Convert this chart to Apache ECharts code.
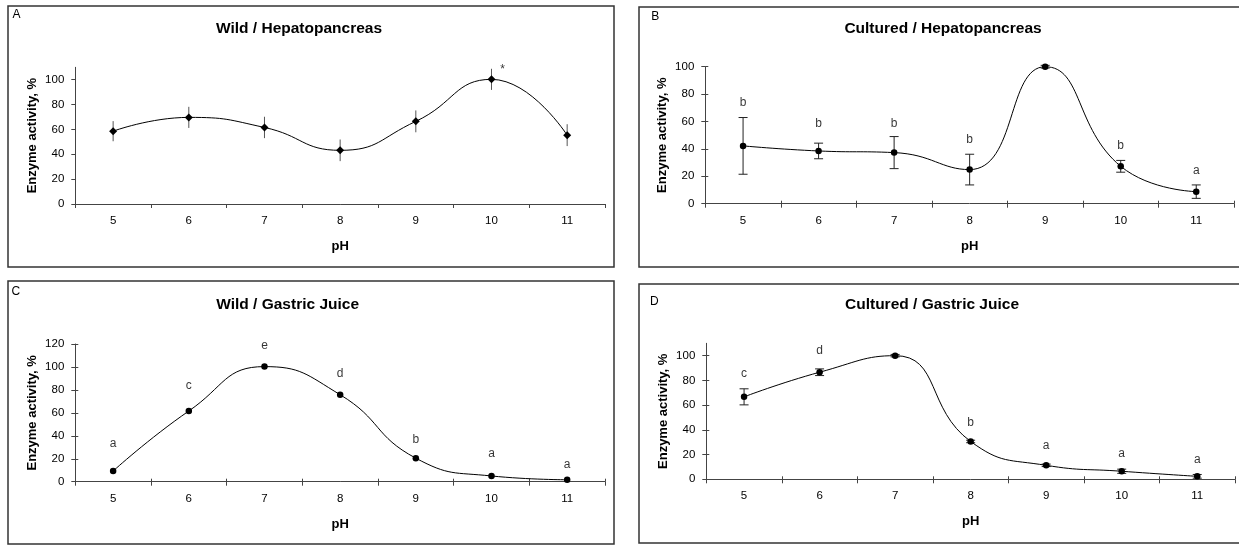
<!DOCTYPE html>
<html><head><meta charset="utf-8">
<script src="https://cdn.jsdelivr.net/npm/echarts@6/dist/echarts.min.js"></script>
<style>html,body{margin:0;padding:0;background:#fff}#c{width:1239px;height:546px}</style>
</head><body><div id="c"></div>
<script>
// ---------- data ----------
const categories = ['5', '6', '7', '8', '9', '10', '11'];
const ticks110 = [0, 20, 40, 60, 80, 100];
const ticks120 = [0, 20, 40, 60, 80, 100, 120];

// A: Wild / Hepatopancreas
const valuesA = [58.6, 69.7, 61.6, 43.2, 66.5, 100.3, 55.4];
const errorsA = [8.1, 8.5, 8.6, 8.7, 8.8, 8.5, 8.8];
const marksA  = ['', '', '', '', '', '*', ''];
const markYA  = [null, null, null, null, null, 108, null];

// B: Cultured / Hepatopancreas
const valuesB = [42.2, 38.5, 37.3, 24.9, 100, 27.3, 8.8];
const errorsB = [20.7, 5.7, 11.7, 11.2, 1, 4.3, 4.9];
const marksB  = ['b', 'b', 'b', 'b', 'c', 'b', 'a'];
const markYB  = [73.5, 58.5, 58.5, 47, 115.4, 42.5, 23.9];

// C: Wild / Gastric Juice
const valuesC = [9.3, 61.6, 100.3, 75.8, 20.5, 5, 1.7];
const marksC  = ['a', 'c', 'e', 'd', 'b', 'a', 'a'];
const markYC  = [33.3, 83.6, 118.3, 94.3, 37, 24.6, 15];

// D: Cultured / Gastric Juice
const valuesD = [66.7, 86.6, 100, 30.6, 11.3, 6.5, 2.4];
const errorsD = [6.5, 2.7, 1, 1, 1, 1.7, 1.5];
const marksD  = ['c', 'd', 'e', 'b', 'a', 'a', 'a'];
const markYD  = [85.8, 104, 111.8, 45.5, 27.4, 20.7, 15.9];

// ---------- chart ----------
const FONT = '"Liberation Sans", Arial, sans-serif';
const AXIS_COLOR = '#444';

const panels = [
  {grid:{left:75.3, top:67.3, width:529.7, height:136.7}, max:110, ticks:ticks110, values:valuesA, errors:errorsA, cap:0, errColor:'#555', symbol:'diamond', symbolSize:8, marks:marksA, markY:markYA, markOffset:[11,0], cross:false},
  {grid:{left:705.3, top:66.7, width:528.7, height:137}, max:100, ticks:ticks110, values:valuesB, errors:errorsB, cap:4.5, errColor:'#222', symbol:'circle', symbolSize:6.5, marks:marksB, markY:markYB, markOffset:[0,0], cross:true},
  {grid:{left:75.3, top:344, width:529.7, height:137.7}, max:120, ticks:ticks120, values:valuesC, errors:null, cap:0, errColor:'#222', symbol:'circle', symbolSize:6.5, marks:marksC, markY:markYC, markOffset:[0,0], cross:true},
  {grid:{left:706.3, top:343.3, width:528.7, height:136}, max:110, ticks:ticks110, values:valuesD, errors:errorsD, cap:4.5, errColor:'#222', symbol:'circle', symbolSize:6.5, marks:marksD, markY:markYD, markOffset:[0,0], cross:true}
];

const grids = [], xAxes = [], yAxes = [], series = [];
panels.forEach((p, gi) => {
  grids.push(Object.assign({containLabel:false, outerBoundsMode:'none'}, p.grid));
  const xi = xAxes.length, yi = yAxes.length;
  xAxes.push({
    type:'category', gridIndex:gi, data:categories, boundaryGap:true, position:'bottom',
    axisLine:{show:true, lineStyle:{color:AXIS_COLOR, width:1}},
    axisTick:{show:true, inside:false, length:4, alignWithLabel:false, lineStyle:{color:AXIS_COLOR}},
    axisLabel:{show:true, margin:11, color:'#000', fontFamily:FONT, fontSize:11.5},
    splitLine:{show:false},
    name:'pH', nameLocation:'middle', nameGap:36,
    nameTextStyle:{color:'#000', fontFamily:FONT, fontSize:13, fontWeight:'bold'}
  });
  yAxes.push({
    type:'value', gridIndex:gi, min:0, max:p.max,
    axisLine:{show:true, lineStyle:{color:AXIS_COLOR, width:1}},
    axisTick:{show:true, inside:false, length:4, customValues:p.ticks, lineStyle:{color:AXIS_COLOR}},
    axisLabel:{show:true, margin:11, customValues:p.ticks, color:'#000', fontFamily:FONT, fontSize:11.5},
    splitLine:{show:false},
    name:'Enzyme activity, %', nameLocation:'middle', nameGap:36, nameRotate:90,
    nameTextStyle:{color:'#000', fontFamily:FONT, fontSize:13, fontWeight:'bold'}
  });
  if (p.cross) {
    xAxes.push({
      type:'category', gridIndex:gi, data:categories, boundaryGap:true, position:'bottom',
      axisLine:{show:false}, axisLabel:{show:false}, splitLine:{show:false},
      axisTick:{show:true, inside:true, length:3, lineStyle:{color:AXIS_COLOR}}
    });
    yAxes.push({
      type:'value', gridIndex:gi, min:0, max:p.max, position:'left',
      axisLine:{show:false}, axisLabel:{show:false}, splitLine:{show:false},
      axisTick:{show:true, inside:true, length:3, customValues:p.ticks, lineStyle:{color:AXIS_COLOR}}
    });
  }
  series.push({
    type:'line', xAxisIndex:xi, yAxisIndex:yi, data:p.values, smooth:0.5,
    symbol:p.symbol, symbolSize:p.symbolSize, showSymbol:true, z:4,
    itemStyle:{color:'#000'}, lineStyle:{color:'#000', width:1}
  });
  if (p.errors) {
    const cap = p.cap, col = p.errColor;
    series.push({
      type:'custom', xAxisIndex:xi, yAxisIndex:yi, z:3,
      data:p.values.map((v, i) => [i, v - p.errors[i], v + p.errors[i]]),
      renderItem:(params, api) => {
        const lo = api.coord([api.value(0), api.value(1)]);
        const hi = api.coord([api.value(0), api.value(2)]);
        const st = {stroke:col, lineWidth:1};
        const ch = [{type:'line', shape:{x1:lo[0], y1:lo[1], x2:hi[0], y2:hi[1]}, style:st}];
        if (cap > 0) {
          ch.push({type:'line', shape:{x1:lo[0]-cap, y1:lo[1], x2:lo[0]+cap, y2:lo[1]}, style:st});
          ch.push({type:'line', shape:{x1:hi[0]-cap, y1:hi[1], x2:hi[0]+cap, y2:hi[1]}, style:st});
        }
        return {type:'group', children:ch};
      }
    });
  }
  const markData = [];
  p.marks.forEach((m, i) => { if (m) markData.push({name:m, value:[i, p.markY[i]]}); });
  series.push({
    type:'scatter', xAxisIndex:xi, yAxisIndex:yi, data:markData, symbolSize:1, z:5,
    itemStyle:{color:'rgba(0,0,0,0)'}, silent:true,
    label:{show:true, position:'inside', formatter:'{b}', offset:p.markOffset, color:'#000', fontFamily:FONT, fontSize:12}
  });
});

const titles = [
  ['Wild / Hepatopancreas', 299, 28.3],
  ['Cultured / Hepatopancreas', 943, 28.3],
  ['Wild / Gastric Juice', 287.6, 305],
  ['Cultured / Gastric Juice', 932, 305]
];
const letters = [['A', 16.6, 15], ['B', 655.3, 16.7], ['C', 15.8, 291.7], ['D', 654.3, 301.7]];
const frames = [[8, 6, 606, 261], [639, 7, 620, 260], [8, 281, 606, 263], [639, 284, 620, 259]];

const graphic = [];
frames.forEach(f => graphic.push({type:'rect', shape:{x:f[0], y:f[1], width:f[2], height:f[3]}, style:{fill:'none', stroke:'#333', lineWidth:1.5}, z:1}));
titles.forEach(t => graphic.push({type:'text', x:t[1], y:t[2], style:{text:t[0], align:'center', verticalAlign:'middle', font:'bold 15.5px ' + FONT, fill:'#000'}}));
letters.forEach(t => graphic.push({type:'text', x:t[1], y:t[2], style:{text:t[0], align:'center', verticalAlign:'middle', font:'12px ' + FONT, fill:'#000'}}));

const chart = echarts.init(document.getElementById('c'), null, {renderer:'canvas'});
chart.setOption({
  animation:false, backgroundColor:'#fff',
  grid:grids, xAxis:xAxes, yAxis:yAxes, series:series, graphic:graphic
});
</script></body></html>
